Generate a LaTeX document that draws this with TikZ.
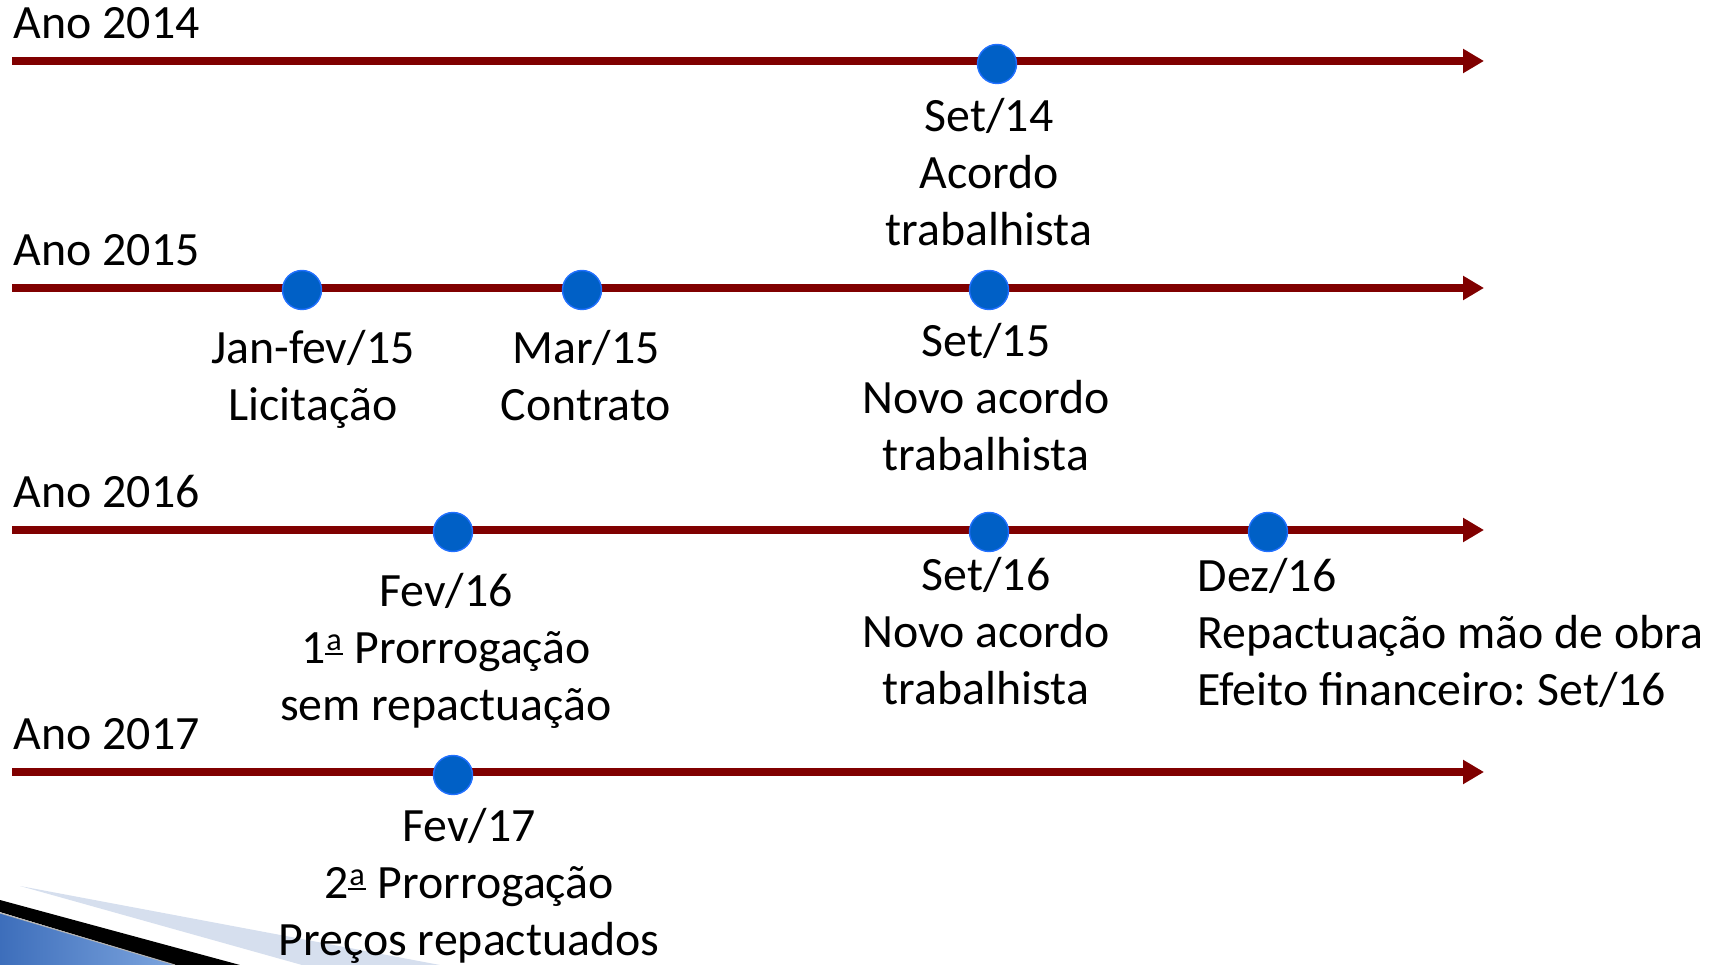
\documentclass[tikz,border=0pt]{standalone}
\usepackage{fontspec}
\setmainfont{Carlito}
\usepackage{tikz}
\usetikzlibrary{arrows.meta}
\definecolor{linered}{HTML}{800000}
\definecolor{dotblue}{HTML}{0060C6}
\definecolor{dotrim}{HTML}{2170FF}
\definecolor{wedge}{HTML}{D6DFEE}
\definecolor{swdark}{HTML}{3D6EBB}
\definecolor{swlight}{HTML}{7DA5DE}
\newcommand{\ordfem}{\leavevmode\setbox0\hbox{\raisebox{0.28em}{\fontsize{9.2pt}{10pt}\selectfont a}}\rlap{\kern0.02em\copy0}\raisebox{0.18em}{\rule{\dimexpr\wd0+0.04em\relax}{0.045em}}\kern0.02em}
\tikzset{yearline/.style = {draw=linered, line width = 0.08cm, -{Triangle[length=0.21cm, width=0.23cm]}}}
\tikzset{ev/.style = {circle, fill=dotblue, draw=dotrim, line width=0.4pt, inner sep = 0, minimum size = 0.39cm}}
\tikzset{lbl/.style = {anchor = base, inner sep = 0, text width = 5cm, align = flush center, font = \fontsize{13.6pt}{16.2pt}\selectfont\frenchspacing}}
\tikzset{yr/.style = {anchor = base west, inner sep = 0, font = \fontsize{13.6pt}{16.2pt}\selectfont}}

\begin{document}
\begin{tikzpicture}[x=0.01cm, y=-0.01cm]
    \useasboundingbox (0, 0) rectangle (1716, 965);

    % swoosh in the corner
    \fill [wedge] (20, 886) -- (440, 965) -- (302, 965) -- cycle;
    \fill [black] (0, 900) -- (240, 965) -- (175, 965) -- (0, 912) -- cycle;
    \shade [left color=swdark, right color=swlight] (0, 913) -- (175, 965) -- (0, 965) -- cycle;
    \draw [gray!60, line width=0.3pt] (0, 913) -- (175, 965);

    \node [yr] (ano14) at (13, 39) {Ano 2014};
    \node [yr] (ano15) at (13, 266) {Ano 2015};
    \node [yr] (ano16) at (13, 508) {Ano 2016};
    \node [yr] (ano17) at (13, 750) {Ano 2017};

    \coordinate (s14) at (12, 61);
    \coordinate (e14) at (1484, 61);
    \coordinate (s15) at (12, 288);
    \coordinate (e15) at (1484, 288);
    \coordinate (s16) at (12, 530);
    \coordinate (e16) at (1484, 530);
    \coordinate (s17) at (12, 772);
    \coordinate (e17) at (1484, 772);
    \draw [yearline] (s14) -- (e14);
    \draw [yearline] (s15) -- (e15);
    \draw [yearline] (s16) -- (e16);
    \draw [yearline] (s17) -- (e17);

    \node [ev] (set14) at (997, 64) {};
    \node [ev] (jan15) at (302, 290) {};
    \node [ev] (mar15) at (582, 290) {};
    \node [ev] (set15) at (989, 290) {};
    \node [ev] (fev16) at (453, 532) {};
    \node [ev] (set16) at (989, 532) {};
    \node [ev] (dez16) at (1268, 532) {};
    \node [ev] (fev17) at (453, 775) {};

    \node [lbl] (set14txt) at (989, 132) {Set/14\\Acordo\\trabalhista};
    \node [lbl] (jan15txt) at (313, 364) {Jan-fev/15\\Licitação};
    \node [lbl] (mar15txt) at (586, 364) {Mar/15\\Contrato};
    \node [lbl] (set15txt) at (986, 357) {Set/15\\Novo acordo\\trabalhista};
    \node [lbl] (fev16txt) at (446, 607) {Fev/16\\1\ordfem{} Prorrogação\\sem repactuação};
    \node [lbl] (set16txt) at (986, 591) {Set/16\\Novo acordo\\trabalhista};
    \node [lbl, anchor = base west, align = flush left, text width = 5.4cm] (dez16txt) at (1197, 592) {Dez/16\\Repactuação mão de obra\\Efeito financeiro: Set/16};
    \node [lbl] (fev17txt) at (469, 842) {Fev/17\\2\ordfem{} Prorrogação\\Preços repactuados};
\end{tikzpicture}
\end{document}
